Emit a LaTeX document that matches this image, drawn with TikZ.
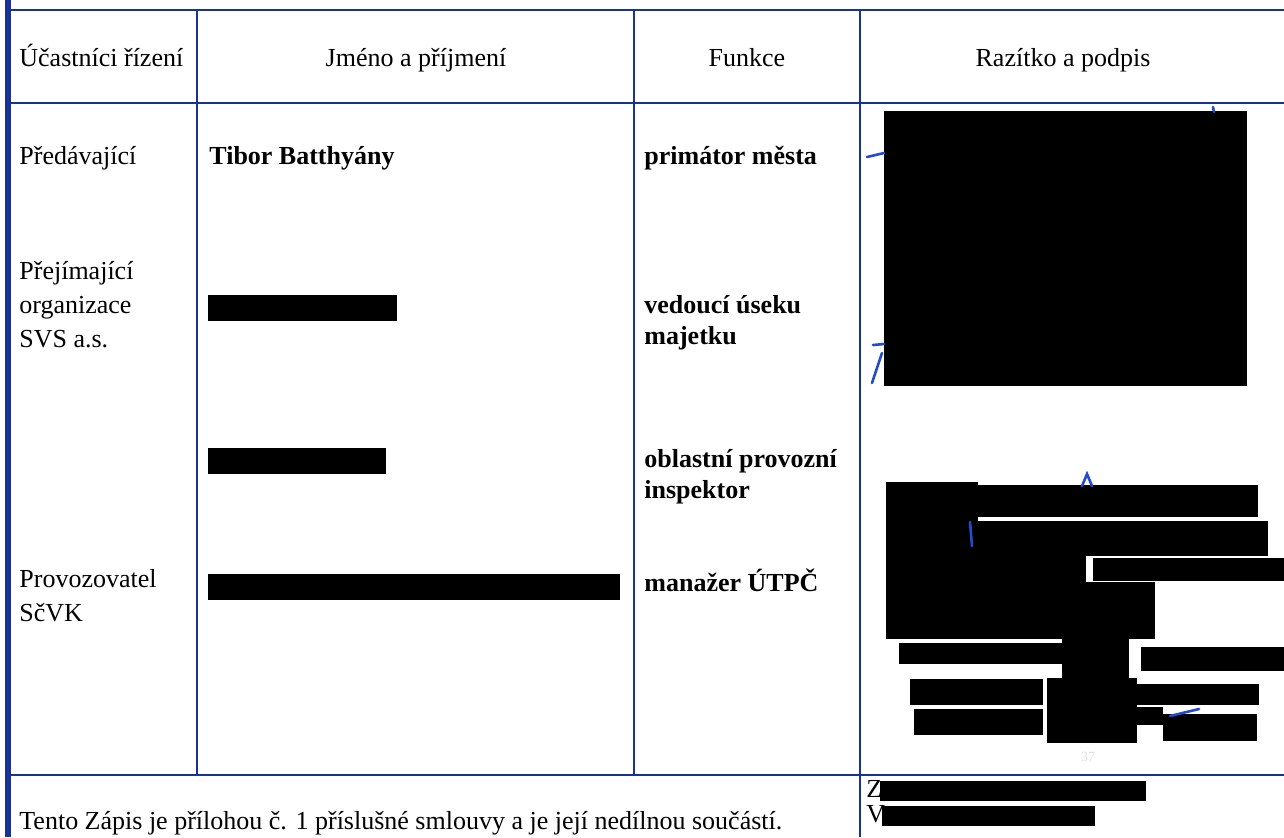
\documentclass[tikz,border=0pt]{standalone}
\usepackage{fontspec}
\setmainfont{Liberation Serif}
\definecolor{tableblue}{RGB}{25,50,150}
\definecolor{penblue}{RGB}{35,75,205}

\begin{document}
\begin{tikzpicture}[x=0.5pt,y=-0.5pt,
    grid/.style={draw=tableblue,line width=1pt},
    cell/.style={anchor=base west,inner sep=0pt,align=left,font=\fontsize{13}{16.8}\selectfont},
    role/.style={cell,font=\fontsize{13}{15.2}\selectfont\bfseries},
    head/.style={anchor=base,inner sep=0pt,font=\fontsize{13}{16}\selectfont},
    redact/.style={fill=black},
    pen/.style={draw=penblue,line width=1.3pt,line cap=round}]
        \useasboundingbox (0,0) rectangle (1284,837);

        % Table frame
        \draw[tableblue,line width=2.6pt] (8,0) -- (8,837);
        \draw[grid] (8,10) -- (1284,10);
        \draw[grid] (8,103) -- (1284,103);
        \draw[grid] (8,775) -- (1284,775);
        \draw[grid] (197,10) -- (197,775);
        \draw[grid] (634,10) -- (634,775);
        \draw[grid] (860,10) -- (860,837);

        % Header row
        \node[cell] (ucast) at (19,66) {Účastníci řízení};
        \node[head] (jmeno) at (416,66) {Jméno a příjmení};
        \node[head] (funkce) at (747,66) {Funkce};
        \node[head] (razitko) at (1063,66) {Razítko a podpis};

        % First column (base = last line)
        \node[cell] (predavajici) at (19,164) {Předávající};
        \node[cell] (prejimajici) at (19,347) {Přejímající\\organizace\\SVS a.s.};
        \node[cell] (provozovatel) at (19,621) {Provozovatel\\SčVK};

        % Names
        \node[cell,font=\fontsize{13}{15}\selectfont\bfseries] (tibor) at (209,164) {Tibor Batthyány};
        \fill[redact] (208,295) rectangle (397,321);
        \fill[redact] (208,448) rectangle (386,474);
        \fill[redact] (208,574) rectangle (620,600);

        % Functions
        \node[role] (primator) at (644,164) {primátor města};
        \node[role] (vedouci) at (644,344) {vedoucí úseku\\majetku};
        \node[role] (inspektor) at (644,498) {oblastní provozní\\inspektor};
        \node[role] (manazer) at (644,591) {manažer ÚTPČ};

        % Stamps and signatures (blacked out)
        \fill[redact] (884,111) rectangle (1247,386);
        \draw[pen] (867,157) -- (884,153);
        \draw[pen] (873,345) -- (884,344);
        \draw[pen] (882,353) -- (872,383);
        \draw[pen] (1213,107) -- (1214,112);

        \fill[redact] (886,482) rectangle (978,639);
        \fill[redact] (978,485) rectangle (1258,517);
        \fill[redact] (968,521) rectangle (1268,556);
        \fill[redact] (886,547) rectangle (1086,582);
        \fill[redact] (886,582) rectangle (1155,639);
        \fill[redact] (1093,558) rectangle (1284,581);
        \fill[redact] (899,643) rectangle (1062,664);
        \fill[redact] (1062,639) rectangle (1129,678);
        \fill[redact] (1141,647) rectangle (1284,671);
        \fill[redact] (910,679) rectangle (1043,705);
        \fill[redact] (1047,678) rectangle (1137,743);
        \fill[redact] (1137,684) rectangle (1259,705);
        \fill[redact] (914,709) rectangle (1043,735);
        \fill[redact] (1137,707) rectangle (1163,725);
        \fill[redact] (1163,714) rectangle (1257,741);
        \draw[pen] (1082,486) -- (1087,474) -- (1092,486);
        \draw[pen] (970,522) -- (972,546);
        \draw[pen] (1170,716) -- (1199,709);
        \node[text=black!12,font=\fontsize{7}{8}\selectfont] (stampnr) at (1088,757) {37};

        % Last row
        \node[cell] (zapis) at (19,829) {Tento Zápis je přílohou č. 1 příslušné smlouvy a je její nedílnou součástí.};
        \node[cell] (zline) at (866,797) {Z};
        \fill[redact] (880,781) rectangle (1146,801);
        \node[cell] (vline) at (866,822) {V};
        \fill[redact] (882,806) rectangle (1095,826);
\end{tikzpicture}
\end{document}
